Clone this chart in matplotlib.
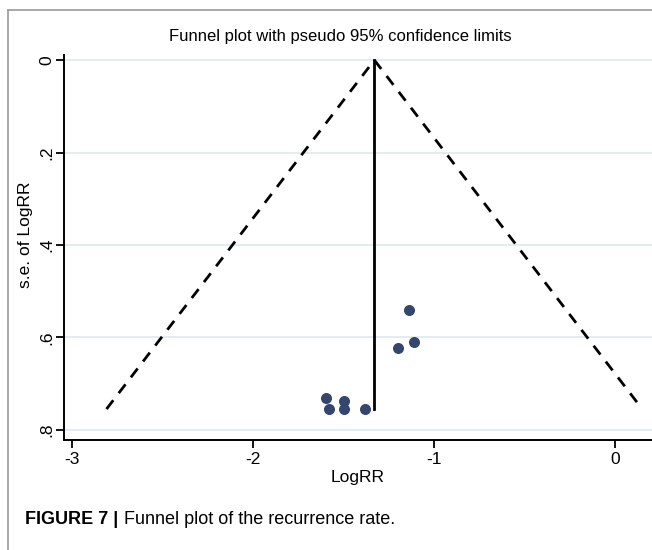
import matplotlib
matplotlib.use("Agg")
import matplotlib.pyplot as plt
from matplotlib.lines import Line2D

plt.rcParams["font.family"] = ["Liberation Sans", "DejaVu Sans"]

# study estimates
log_rr = [-1.14, -1.11, -1.20, -1.60, -1.50, -1.58, -1.50, -1.38]
se_log_rr = [0.54, 0.61, 0.623, 0.731, 0.737, 0.755, 0.755, 0.755]

# pooled estimate and pseudo 95% limits
pooled = -1.33
funnel_x = [-2.81, -1.33, 0.15]
funnel_se = [0.755, 0.0, 0.755]

y_ticks = [0, 0.2, 0.4, 0.6, 0.8]
y_tick_labels = ["0", ".2", ".4", ".6", ".8"]
x_ticks = [-3, -2, -1, 0]
x_tick_labels = ["-3", "-2", "-1", "0"]

fig = plt.figure(figsize=(6.52, 5.5), dpi=100)

# outer frame of the figure panel
fig.add_artist(Line2D([8 / 652, 1.0], [1 - 10 / 550, 1 - 10 / 550],
                      color="#9a9a9a", lw=1.2, transform=fig.transFigure))
fig.add_artist(Line2D([8 / 652, 8 / 652], [0.0, 1 - 10 / 550],
                      color="#9a9a9a", lw=1.2, transform=fig.transFigure))

ax = fig.add_axes([64 / 652, 1 - 440 / 550, 1 - 64 / 652, (440 - 55) / 550])

for t in y_ticks:
    ax.axhline(t, color="#e3ecf1", lw=1.5, zorder=0)

ax.plot(funnel_x, funnel_se, color="black", lw=2.0,
        linestyle=(0, (4, 3.2)), zorder=2)
ax.plot([pooled, pooled], [0, max(se_log_rr)], color="black", lw=2.0, zorder=2)
ax.scatter(log_rr, se_log_rr, s=48, color="#34466e", zorder=3)

ax.set_xlim(-3.045, 0.204)
ax.set_ylim(0.822, -0.011)

ax.set_yticks(y_ticks)
ax.set_yticklabels(y_tick_labels, rotation=90, va="center", fontsize=12.5)
ax.set_xticks(x_ticks)
ax.set_xticklabels(x_tick_labels, fontsize=12.5)
ax.tick_params(axis="both", direction="out", length=6, width=1.3)
ax.tick_params(axis="y", pad=1)
ax.tick_params(axis="x", pad=3)

for side in ["top", "right"]:
    ax.spines[side].set_visible(False)
for side in ["left", "bottom"]:
    ax.spines[side].set_linewidth(1.4)

ax.set_xlabel("LogRR", fontsize=12.5, labelpad=2)
ax.set_ylabel("s.e. of LogRR", fontsize=12.5, va="center")
ax.yaxis.set_label_coords(-0.066, 0.532)

fig.text(340 / 652, 1 - 37 / 550, "Funnel plot with pseudo 95% confidence limits",
         ha="center", va="center", fontsize=12)

fig.text(25 / 652, 1 - 520 / 550, "FIGURE 7 |", fontweight="bold",
         ha="left", va="center", fontsize=13)
fig.text(124 / 652, 1 - 520 / 550, "Funnel plot of the recurrence rate.",
         ha="left", va="center", fontsize=13)

fig.savefig("out.png", dpi=100)
